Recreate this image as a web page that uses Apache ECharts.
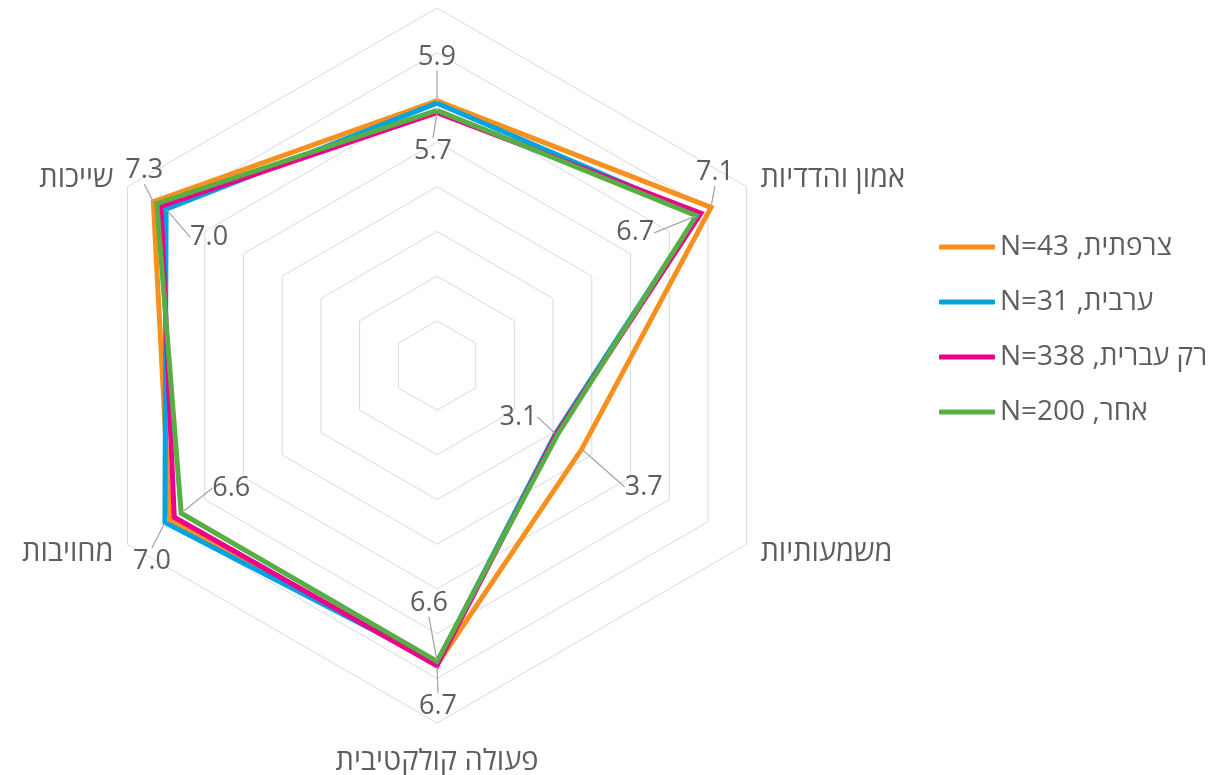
<!DOCTYPE html>
<html lang="he">
<head>
<meta charset="utf-8">
<title>radar</title>
<script src="https://cdn.jsdelivr.net/npm/echarts@6/dist/echarts.min.js"></script>
<style>
  html, body { margin: 0; padding: 0; background: #fff; }
  #chart { width: 1217px; height: 775px; }
</style>
</head>
<body>
<div id="chart" dir="rtl"></div>
<script>
// axes, counter-clockwise from the top (echarts radar order)
const axisNames = ["", "שייכות", "מחויבות", "פעולה קולקטיבית", "משמעותיות", "אמון והדדיות"]
const axisMax = 8

const seriesNames = ["צרפתית, N=43", "ערבית, N=31", "רק עברית, N=338", "אחר, N=200"]
const frenchValues = [5.92, 7.33, 6.9, 6.69, 3.74, 7.08]
const arabicValues = [5.87, 7.0, 7.03, 6.66, 3.06, 6.74]
const hebrewValues = [5.66, 7.13, 6.79, 6.72, 3.08, 6.82]
const otherValues = [5.71, 7.24, 6.61, 6.62, 3.11, 6.7]
const seriesValues = [frenchValues, arabicValues, hebrewValues, otherValues]
const seriesColors = ["#F7901E", "#00A3E0", "#EC008C", "#57AE45"]

const CENTER = [437, 365.5]
const FONT = "'Open Sans', 'DejaVu Sans', sans-serif"
const TEXT = "#5e5e5e"

// highest and lowest value on each axis get a data label
const maxValues = axisNames.map((n, i) => Math.max(...seriesValues.map(v => v[i])))
const minValues = axisNames.map((n, i) => Math.min(...seriesValues.map(v => v[i])))

// label offsets from the point, per axis
const outerOffsets = [[0, -44], [-9, -31], [-13, 39], [1, 41], [62, 38], [4, -35]]
const innerOffsets = [[-4, 39], [43, 28], [50, -25], [-8, -58], [-37, -17], [-61, 17]]

function placeLabel(offsets) {
  return function (p) {
    const vx = p.rect.x + p.rect.width / 2
    const vy = p.rect.y + p.rect.height / 2
    const ang = Math.atan2(CENTER[1] - vy, vx - CENTER[0]) * 180 / Math.PI
    const i = ((Math.round((ang - 90) / 60) % 6) + 6) % 6
    return { x: vx + offsets[i][0], y: vy + offsets[i][1], align: "center", verticalAlign: "middle" }
  }
}

function labelSeries(name, values, offsets) {
  return {
    name: name,
    type: "radar",
    symbol: "circle",
    symbolSize: 2,
    z: 5,
    lineStyle: { width: 0, opacity: 0 },
    itemStyle: { color: "rgba(0,0,0,0)" },
    label: {
      show: true,
      color: TEXT,
      fontSize: 27,
      fontFamily: FONT,
      padding: [3, 5],
      formatter: p => Number(Array.isArray(p.value) ? p.value[0] : p.value).toFixed(1)
    },
    labelLine: { show: true, lineStyle: { color: "#a6a6a6", width: 1.3 } },
    labelLayout: placeLabel(offsets),
    data: [{ value: values }]
  }
}

const myChart = echarts.init(document.getElementById("chart"))

const option = {
  animation: false,
  color: seriesColors,
  legend: {
    data: seriesNames,
    orient: "vertical",
    left: 934,
    top: 228,
    itemWidth: 56,
    itemHeight: 5,
    itemGap: 27,
    icon: "roundRect",
    textStyle: { color: TEXT, fontSize: 28, fontFamily: FONT }
  },
  radar: {
    center: CENTER,
    radius: 357.5,
    startAngle: 90,
    shape: "polygon",
    splitNumber: 8,
    nameGap: 16,
    indicator: axisNames.map(n => ({ name: n, min: 0, max: axisMax })),
    axisName: {
      color: TEXT,
      fontSize: 29,
      fontFamily: FONT,
      // the bottom name sits a little lower in the original
      formatter: n => (n === axisNames[3] ? "{low|" + n + "}" : n),
      rich: { low: { padding: [8, 0, 0, 0], fontSize: 29, fontFamily: FONT, color: TEXT } }
    },
    axisLine: { show: false },
    axisTick: { show: false },
    axisLabel: { show: false },
    splitArea: { show: false },
    splitLine: { lineStyle: { color: "#d9d9d9", width: 1 } }
  },
  series: seriesNames.map((name, k) => ({
    name: name,
    type: "radar",
    symbol: "none",
    lineStyle: { width: 5, color: seriesColors[k], join: "miter" },
    itemStyle: { color: seriesColors[k] },
    data: [{ value: seriesValues[k], name: name }]
  })).concat([
    labelSeries("max", maxValues, outerOffsets),
    labelSeries("min", minValues, innerOffsets)
  ])
}
myChart.setOption(option, true)
</script>
</body>
</html>
